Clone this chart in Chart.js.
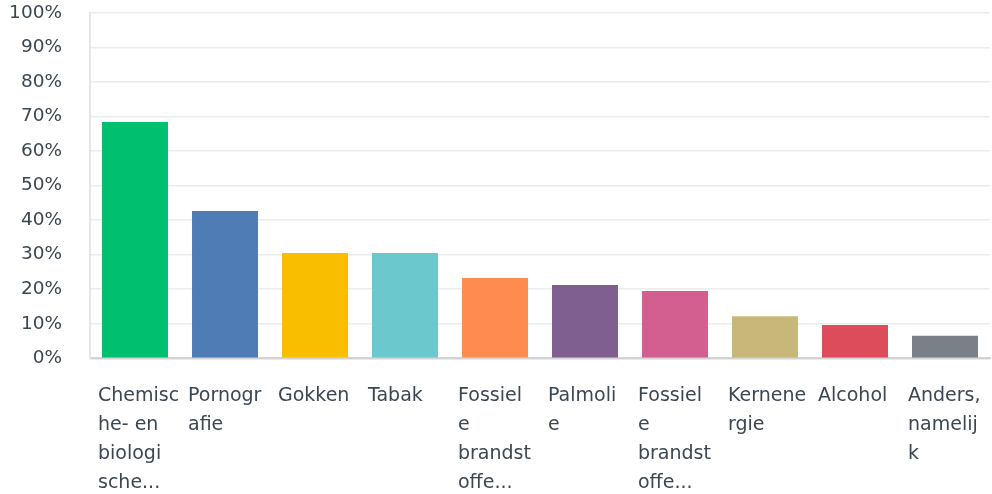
<!DOCTYPE html>
<html>
<head>
<meta charset="utf-8">
<script src="https://cdn.jsdelivr.net/npm/chart.js@4/dist/chart.umd.min.js"></script>
<style>
html,body{margin:0;padding:0;background:#fff;}
#wrap{width:992px;height:494px;position:relative;}
</style>
</head>
<body>
<div id="wrap"><canvas id="c"></canvas></div>
<script>
const categories = [
  ["Chemisc","he- en","biologi","sche..."],
  ["Pornogr","afie"],
  "Gokken",
  "Tabak",
  ["Fossiel","e","brandst","offe..."],
  ["Palmoli","e"],
  ["Fossiel","e","brandst","offe..."],
  ["Kernene","rgie"],
  "Alcohol",
  ["Anders,","namelij","k"]
];
const values = [68.4, 42.6, 30.5, 30.5, 23.2, 21.2, 19.5, 12.2, 9.6, 6.5];
const barColors = ["#00bf6f","#507cb6","#f9be00","#6bc8cd","#ff8b4f","#7f5f90","#d25f90","#c7b879","#dc4c5b","#7a8087"];
const yTicks = [0,10,20,30,40,50,60,70,80,90,100];

const FONT = "'DejaVu Sans', sans-serif";
new Chart(document.getElementById('c'), {
  type: 'bar',
  data: {
    labels: categories,
    datasets: [{
      data: values,
      backgroundColor: barColors,
      borderWidth: 0,
      barPercentage: 0.733,
      categoryPercentage: 1.0
    }]
  },
  options: {
    responsive: true,
    maintainAspectRatio: false,
    animation: false,
    layout: { padding: { top: 12.7, right: 2, left: 0, bottom: 0 } },
    plugins: { legend: { display: false }, tooltip: { enabled: false } },
    scales: {
      x: {
        grid: { display: false, drawTicks: false },
        border: { display: true, color: '#d3d3d3', width: 2 },
        ticks: {
          autoSkip: false,
          maxRotation: 0,
          minRotation: 0,
          align: 'start',
          labelOffset: -37,
          padding: 23,
          color: '#3b4651',
          font: { family: FONT, size: 19, lineHeight: 1.53 }
        },
        afterFit: (s) => { s.height = 135.7; s.paddingLeft = 0; s.paddingRight = 0; s.paddingTop = 0; s.paddingBottom = 0; }
      },
      y: {
        min: 0, max: 100,
        afterBuildTicks: (s) => { s.ticks = yTicks.map(v => ({ value: v })); },
        grid: {
          drawTicks: false,
          color: (ctx) => ctx.tick && ctx.tick.value === 0 ? '#d3d3d3' : '#ececec',
          lineWidth: 1.5
        },
        border: { display: true, color: '#e6e6e6', width: 2 },
        ticks: {
          padding: 28,
          color: '#3b4651',
          font: { family: FONT, size: 18.5 },
          callback: (v) => v + '%'
        },
        afterFit: (s) => { s.width = 90; s.paddingTop = 0; s.paddingBottom = 0; s.paddingLeft = 0; s.paddingRight = 0; }
      }
    }
  }
});
</script>
</body>
</html>
